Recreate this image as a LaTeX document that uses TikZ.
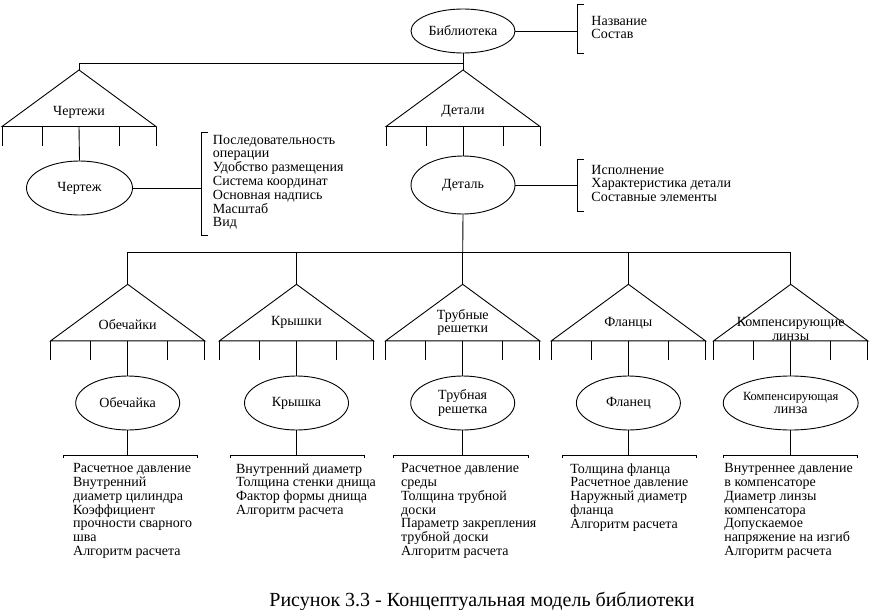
\documentclass[tikz,border=0pt]{standalone}
\usepackage{fontspec}
\setmainfont{Liberation Serif}
\usetikzlibrary{shapes.geometric}
\newcommand\fs{\fontsize{14}{13.8}\selectfont}
% column: #1 id, #2 cx, #3 triangle label, #4 ellipse label, #5 bracket left, #6 bracket right, #7 list x, #8 list, #9 label y
\newcommand\mkcol[9]{%
  \coordinate (t#1) at (#2,284.3);
  \draw (t#1) -- ++(-77,56.5) -- ++(154,0) -- cycle;
  \foreach \dx in {-77,-37,40,77} \draw (t#1) ++(\dx,56.5) -- ++(0,19);
  \node[lbl] (tl#1) at (#2,#9) {#3};
  \node[ell] (e#1) at (#2,403) {#4};
  \draw (t#1) ++(0,56.5) -- (e#1.north);
  \coordinate (b#1) at (#2,455);
  \draw (e#1.south) -- (b#1);
  \draw (#5,458) -- (#5,455) -- (#6,455) -- (#6,458);
  \node[lst] (l#1) at (#7,463) {#8};
}
\begin{document}
\begin{tikzpicture}[x=1pt,y=-1pt, line width=0.9pt,
  ell/.style={draw, ellipse, minimum width=104pt, minimum height=54pt, inner sep=0pt, align=center, font=\fs},
  lbl/.style={inner sep=0pt, align=center, font=\fs},
  lst/.style={inner sep=0pt, anchor=north west, align=left, font=\fs}]
\useasboundingbox (0,0) rectangle (870,610);
\fill[white] (0,0) rectangle (870,610);
% root
\node[ell, minimum width=104pt, minimum height=44pt] (lib) at (463,31) {Библиотека};
\coordinate (libbr) at (577,31);
\draw (lib.east) -- (libbr);
\draw (584,4) -- (577,4) -- (577,53) -- (584,53);
\node[lst] (libtx) at (591,15.5) {Название\\Состав};
% top bus
\coordinate (apC) at (79,70);
\coordinate (apD) at (463,70);
\coordinate (busL) at (79,63.5);
\coordinate (busR) at (463,63.5);
\draw (lib.south) -- (apD);
\draw (apC) -- (busL) -- (busR);
% Чертежи triangle
\draw (apC) -- ++(-77,56.5) -- ++(154,0) -- cycle;
\foreach \dx in {-77,-37,40,77} \draw (apC) ++(\dx,56.5) -- ++(0,19);
\node[lbl] (trC) at (79,112) {Чертежи};
\node[ell, minimum width=106pt, minimum height=54pt] (cht) at (79.5,188) {Чертеж};
\draw (apC) ++(0,56.5) -- (cht.north);
\coordinate (chtbr) at (201,188);
\draw (cht.east) -- (chtbr);
\draw (208,132) -- (201,132) -- (201,235) -- (208,235);
\node[lst] (chttx) at (212.5,134.5) {Последовательность\\операции\\Удобство размещения\\Система координат\\Основная надпись\\Масштаб\\Вид};
% Детали triangle
\draw (apD) -- ++(-77,56.5) -- ++(154,0) -- cycle;
\foreach \dx in {-77,-37,40,77} \draw (apD) ++(\dx,56.5) -- ++(0,19);
\node[lbl] (trD) at (463,111) {Детали};
\node[ell, minimum width=104pt, minimum height=58pt] (det) at (463,185) {Деталь};
\draw (apD) ++(0,56.5) -- (det.north);
\coordinate (detbr) at (577,185);
\draw (det.east) -- (detbr);
\draw (584,159) -- (577,159) -- (577,211) -- (584,211);
\node[lst] (dettx) at (591,164.5) {Исполнение\\Характеристика детали\\Составные элементы};
% bottom bus
\coordinate (bus2) at (462.7,252);
\draw (det.south) -- (bus2);
\draw (127.7,252) -- (790.7,252);
\foreach \cx in {127.7,296.5,462.7,628.4,790.7} \draw (\cx,252) -- (\cx,284.3);
\mkcol{1}{127.7}{Обечайки}{Обечайка}{63.3}{197.3}{72.7}{Расчетное давление\\Внутренний\\диаметр цилиндра\\Коэффициент\\прочности сварного\\шва\\Алгоритм расчета}{325}
\mkcol{2}{296.5}{Крышки}{Крышка}{230}{364.3}{235.7}{Внутренний диаметр\\Толщина стенки днища\\Фактор формы днища\\Алгоритм расчета}{322}
\mkcol{3}{462.7}{Трубные\\решетки}{Трубная\\решетка}{393.3}{528.3}{400.7}{Расчетное давление\\среды\\Толщина трубной\\доски\\Параметр закрепления\\трубной доски\\Алгоритм расчета}{322.5}
\mkcol{4}{628.4}{Фланцы}{Фланец}{562.7}{696.7}{570}{Толщина фланца\\Расчетное давление\\Наружный диаметр\\фланца\\Алгоритм расчета}{323}
\mkcol{5}{790.7}{Компенсирующие\\линзы}{\fontsize{12.5}{16}\selectfont Компенсирующая\\линза}{723.3}{857}{724}{Внутреннее давление\\в компенсаторе\\Диаметр линзы\\компенсатора\\Допускаемое\\напряжение на изгиб\\Алгоритм расчета}{329}
% caption
\node[inner sep=0pt, font=\fontsize{20}{22}\selectfont] (cap) at (482,601) {Рисунок 3.3 - Концептуальная модель библиотеки};
\end{tikzpicture}
\end{document}
